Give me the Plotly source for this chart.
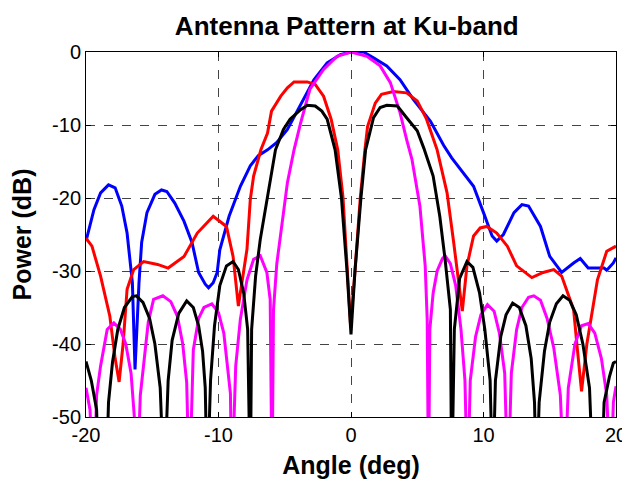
import plotly.graph_objects as go

# ---- data (angle in deg, power in dB) ----
blue_pts = [
    (-20, -25.9), (-19.4, -21.6), (-18.9, -19.3), (-18.3, -18.2), (-17.8, -18.6),
    (-17.3, -21.1), (-16.9, -24.8), (-16.5, -31.6), (-16.3, -43.5), (-16.0, -31.6),
    (-15.8, -26.1), (-15.4, -22.0), (-14.8, -19.5), (-14.3, -18.9), (-13.9, -19.1),
    (-13.3, -20.7), (-12.6, -23.2), (-12.0, -26.1), (-11.5, -30.2), (-11.0, -31.8),
    (-10.75, -32.3), (-10.4, -31.6), (-10.1, -30.2), (-9.9, -27.1), (-9.2, -22.5),
    (-8.35, -18.4), (-7.6, -15.6), (-7.0, -14.2), (-6.3, -13.4), (-5.6, -12.4),
    (-4.8, -10.6), (-3.8, -7.2), (-2.8, -3.8), (-1.8, -1.5), (-0.8, -0.35),
    (0, 0), (0.95, 0), (1.7, -0.8), (2.7, -1.9), (3.7, -3.8), (4.7, -6.5),
    (6.0, -9.5), (7.0, -12.8), (7.6, -14.5), (8.25, -16.1), (9.25, -18.4),
    (10.0, -22.0), (10.65, -25.2), (11.0, -25.9), (11.5, -25.0), (12.3, -22.0),
    (12.9, -20.9), (13.4, -21.1), (14.3, -23.9), (15.0, -28.0), (15.9, -30.2),
    (16.8, -28.9), (17.3, -28.3), (17.9, -29.6), (19.1, -29.6), (19.3, -29.9),
    (19.8, -28.9), (20, -28.2),
]

red_pts = [
    (-20, -25.5), (-19.55, -26.6), (-18.9, -30.7), (-18.2, -36.2), (-17.8, -42.0),
    (-17.5, -45.2), (-17.2, -40.0), (-16.9, -32.5), (-16.4, -29.8), (-15.65, -28.7),
    (-14.6, -29.1), (-13.8, -29.6), (-12.6, -28.0), (-11.6, -24.8), (-10.4, -22.5),
    (-9.4, -23.9), (-8.9, -28.0), (-8.5, -34.8), (-7.85, -27.0), (-7.6, -20.2),
    (-7.35, -17.0), (-6.8, -13.4), (-6.3, -11.1), (-6.0, -8.1), (-5.3, -6.05),
    (-4.8, -4.9), (-4.3, -4.1), (-3.3, -4.1), (-2.7, -4.45), (-2.07, -6.05),
    (-1.5, -9.2), (-1.0, -13.4), (-0.6, -20.0), (-0.25, -30.0), (-0.03, -37.5),
    (0.3, -30.0), (0.7, -20.0), (1.05, -13.4), (1.25, -10.2), (1.83, -7.0),
    (2.3, -5.8), (3.2, -5.4), (4.2, -5.6), (5.0, -6.7), (5.7, -9.2), (6.5, -13.4),
    (7.25, -19.3), (7.75, -26.1), (8.4, -35.5), (8.75, -29.3), (9.25, -25.2),
    (9.75, -24.1), (10.25, -23.9), (11.0, -24.8), (11.8, -26.6), (12.5, -29.3),
    (13.65, -30.9), (14.5, -30.2), (15.3, -29.8), (15.9, -30.7), (16.4, -33.4),
    (16.8, -35.3), (17.1, -41.0), (17.4, -46.5), (17.8, -40.0), (18.2, -35.3),
    (18.6, -31.2), (19.3, -27.3), (20, -26.6),
]

magenta_pts = [
    (-20, -46.0), (-19.7, -49.0), (-19.4, -60), (-19.2, -47.0), (-18.9, -43.0),
    (-18.4, -38.0), (-17.9, -37.1), (-17.4, -38.0), (-17.0, -40.0), (-16.6, -44.0),
    (-16.35, -50.0), (-16.15, -60), (-15.9, -47.0), (-15.65, -43.0), (-15.3, -37.0),
    (-14.9, -33.9), (-14.2, -33.4), (-13.6, -34.2), (-13.1, -36.2), (-12.7, -40.0),
    (-12.4, -45.3), (-12.2, -60), (-11.9, -40.8), (-11.5, -36.5), (-11.1, -35.0),
    (-10.5, -34.5), (-10.0, -35.7), (-9.6, -38.5), (-9.1, -46.8), (-9.0, -60),
    (-8.7, -43.0), (-8.35, -36.6), (-7.85, -31.2), (-7.35, -28.4), (-6.85, -27.9),
    (-6.35, -30.2), (-6.1, -33.9), (-5.96, -60), (-5.85, -35.3), (-5.6, -29.0),
    (-5.3, -24.8), (-4.8, -17.9), (-4.3, -13.4), (-3.8, -9.7), (-3.1, -5.1),
    (-2.07, -2.4), (-1.06, -0.6), (0, 0), (1.2, -0.6), (2.2, -1.9), (2.97, -4.2),
    (3.7, -8.3), (4.2, -12.0), (4.6, -14.7), (5.2, -21.1), (5.6, -29.3),
    (5.75, -36.6), (5.85, -60), (5.95, -38.0), (6.2, -33.0), (6.5, -30.0),
    (6.9, -28.3), (7.1, -27.9), (7.5, -29.0), (7.9, -32.0), (8.3, -38.0),
    (8.6, -45.0), (8.8, -60), (9.0, -45.0), (9.4, -39.0), (9.8, -36.0),
    (10.3, -34.6), (10.8, -35.5), (11.2, -38.5), (11.6, -44.0), (11.85, -60),
    (12.1, -44.0), (12.5, -38.0), (12.9, -35.0), (13.4, -33.6), (13.8, -33.4),
    (14.3, -34.0), (14.8, -36.5), (15.3, -40.5), (15.8, -47.0), (16.1, -60),
    (16.4, -46.0), (16.9, -40.0), (17.4, -37.5), (17.9, -37.2), (18.4, -38.5),
    (18.9, -42.0), (19.3, -47.0), (19.6, -60), (19.8, -48.0), (20, -45.8),
]

black_pts = [
    (-20, -42.4), (-19.6, -45.0), (-19.2, -49.0), (-19.0, -60), (-18.5, -60),
    (-18.3, -48.0), (-18.0, -42.5), (-17.6, -38.0), (-17.1, -35.0), (-16.5, -33.5),
    (-16.2, -33.4), (-15.7, -34.3), (-15.2, -36.5), (-14.8, -40.0), (-14.4, -46.0),
    (-14.1, -60), (-13.8, -45.0), (-13.5, -39.5), (-13.0, -35.8), (-12.4, -34.1),
    (-11.9, -35.0), (-11.5, -37.5), (-11.2, -41.0), (-11.0, -46.0), (-10.85, -60),
    (-10.6, -45.0), (-10.3, -37.5), (-9.9, -32.0), (-9.4, -29.3), (-8.9, -28.7),
    (-8.5, -29.8), (-8.1, -33.0), (-7.8, -38.0), (-7.6, -60), (-7.5, -38.0),
    (-7.2, -30.7), (-6.85, -25.7), (-6.35, -20.2), (-5.7, -13.4), (-5.1, -10.6),
    (-4.6, -9.2), (-3.8, -7.9), (-3.3, -7.3), (-2.7, -7.4), (-2.2, -8.1),
    (-1.8, -9.2), (-1.2, -13.4), (-0.72, -20.0), (-0.3, -30.0), (0, -38.7),
    (0.3, -30.0), (0.75, -20.0), (1.1, -13.4), (1.7, -9.0), (2.2, -7.6),
    (2.7, -7.3), (3.5, -7.4), (4.2, -9.0), (5.0, -10.8), (5.5, -13.2),
    (6.2, -17.0), (6.7, -22.5), (7.1, -28.4), (7.5, -35.3), (7.6, -60),
    (7.8, -38.0), (8.2, -31.0), (8.75, -28.7), (9.2, -29.5), (9.7, -33.0),
    (10.1, -38.0), (10.5, -45.0), (10.7, -60), (10.9, -45.0), (11.3, -39.0),
    (11.7, -36.0), (12.2, -34.4), (12.7, -35.0), (13.2, -37.5), (13.6, -42.0),
    (13.85, -48.0), (14.0, -60), (14.2, -48.0), (14.6, -41.0), (15.0, -37.0),
    (15.5, -34.5), (16.0, -33.4), (16.5, -34.0), (17.0, -36.0), (17.5, -40.0),
    (18.0, -46.0), (18.3, -60), (18.9, -60), (19.1, -48.0), (19.5, -44.5),
    (19.8, -42.6), (20, -42.4),
]

x_ticks = [-20, -10, 0, 10, 20]
y_ticks = [-50, -40, -30, -20, -10, 0]

series = [
    ("blue", blue_pts, "#0000FF"),
    ("red", red_pts, "#FF0000"),
    ("magenta", magenta_pts, "#FF00FF"),
    ("black", black_pts, "#000000"),
]

FONT = "Liberation Sans, Arial, Helvetica, sans-serif"

fig = go.Figure()
for name, pts, col in series:
    fig.add_trace(go.Scatter(
        x=[p[0] for p in pts], y=[p[1] for p in pts],
        mode="lines", name=name, line=dict(color=col, width=3),
        showlegend=False,
    ))

axis_common = dict(
    showgrid=True, gridcolor="#444444", gridwidth=1, griddash="dash",
    showline=True, linecolor="black", linewidth=1, mirror="ticks",
    ticks="inside", ticklen=5, tickcolor="black", zeroline=False,
    automargin=False,
    tickfont=dict(family=FONT, size=20, color="black"),
)

# the page body adds an 8px offset, so the figure is sized to fill the rest
fig.update_layout(
    width=622, height=471,
    margin=dict(l=78, r=14, t=44, b=62),
    paper_bgcolor="white", plot_bgcolor="white",
    title=dict(text="<b>Antenna Pattern at Ku-band</b>", x=0.492, xanchor="center",
               xref="paper", yref="container", y=0.962, yanchor="middle",
               automargin=False,
               font=dict(family=FONT, size=26, color="black")),
    xaxis=dict(range=[-20, 20], tickvals=x_ticks, ticktext=[str(v) for v in x_ticks],
               title=dict(text="<b>Angle (deg)</b>", standoff=17,
                          font=dict(family=FONT, size=25, color="black")),
               **axis_common),
    yaxis=dict(range=[-50, 0], tickvals=y_ticks, ticktext=[str(v) for v in y_ticks],
               title=dict(text="<b>Power (dB)</b>", standoff=15,
                          font=dict(family=FONT, size=25, color="black")),
               **axis_common),
)

fig.write_html("out.html")
